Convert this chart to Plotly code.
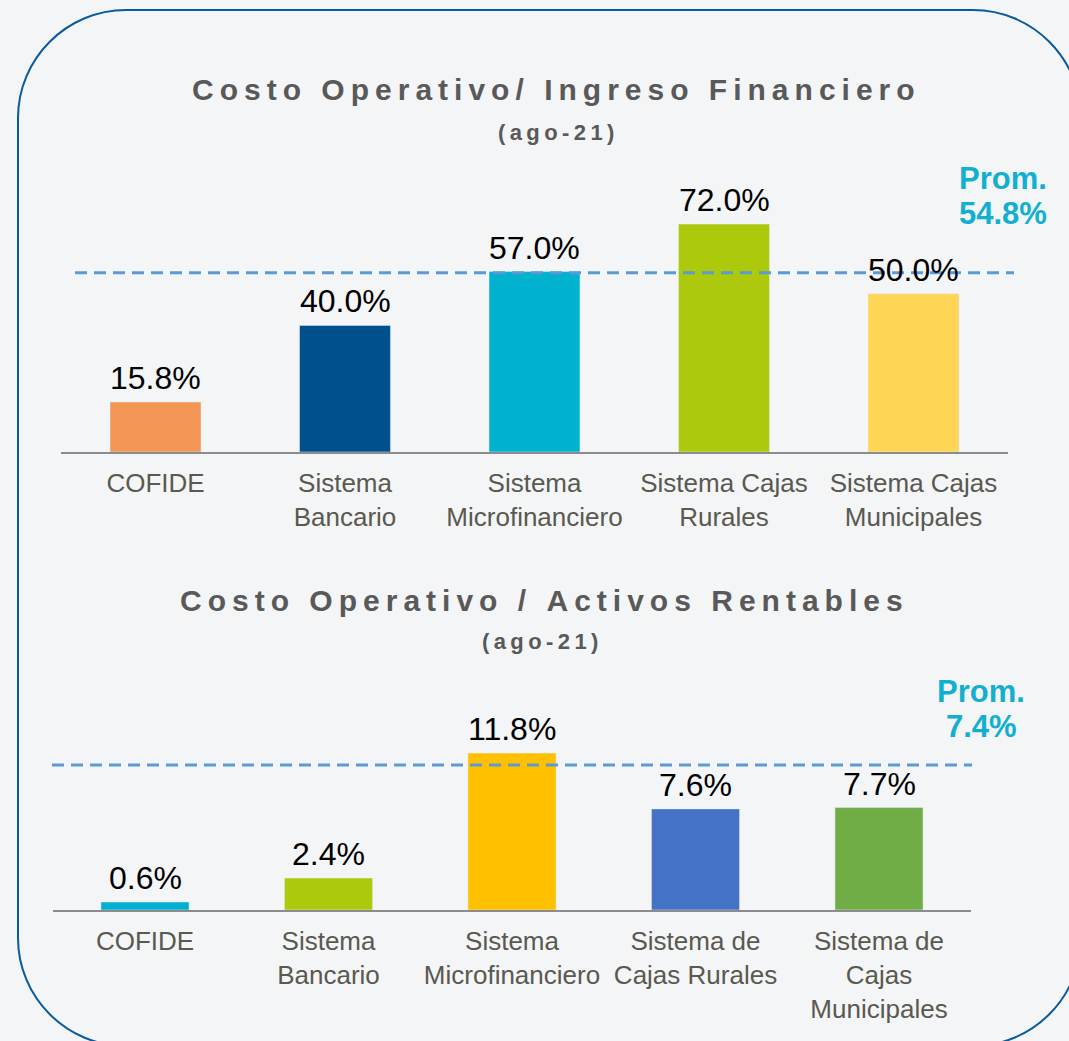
import plotly.graph_objects as go

W, H = 1069, 1041

# ---- data ----
cats_top = ["COFIDE", "Sistema<br>Bancario", "Sistema<br>Microfinanciero",
            "Sistema Cajas<br>Rurales", "Sistema Cajas<br>Municipales"]
vals_top = [15.8, 40.0, 57.0, 72.0, 50.0]
colors_top = ["#F39655", "#00508E", "#00B2CF", "#ADC90B", "#FFD556"]

cats_bot = ["COFIDE", "Sistema<br>Bancario", "Sistema<br>Microfinanciero",
            "Sistema de<br>Cajas Rurales", "Sistema de<br>Cajas<br>Municipales"]
vals_bot = [0.6, 2.4, 11.8, 7.6, 7.7]
colors_bot = ["#00B0CF", "#ADC90B", "#FFC000", "#4472C4", "#70AD47"]

prom_values = [54.8, 7.4]
# level at which the dashed "Prom." line is drawn in the source picture
prom_line_level = [56.6, 10.9]

titles = ["Costo Operativo/ Ingreso Financiero", "Costo Operativo / Activos Rentables"]
subtitle = "(ago-21)"


def px(x):
    return x / W


def py(y):
    return 1 - y / H


def spaced(s):
    # poor man's letter-spacing
    return "\u2009".join(s)


FONT = "Liberation Sans, Arial, sans-serif"
LABEL_GRAY = "#595950"
TITLE_GRAY = "#595959"
PROM_CYAN = "#12AFD0"

fig = go.Figure()

fig.add_trace(go.Bar(x=cats_top, y=vals_top, marker_color=colors_top, width=0.48,
                     xaxis="x", yaxis="y", showlegend=False, hoverinfo="x+y"))
fig.add_trace(go.Bar(x=cats_bot, y=vals_bot, marker_color=colors_bot, width=0.48,
                     xaxis="x2", yaxis="y2", showlegend=False, hoverinfo="x+y"))

annotations = []
# value labels above bars
for c, v in zip(cats_top, vals_top):
    annotations.append(dict(x=c, y=v, xref="x", yref="y", text=f"{v:.1f}%",
                            showarrow=False, yanchor="bottom", yshift=4,
                            font=dict(family=FONT, size=32, color="#000000")))
for c, v in zip(cats_bot, vals_bot):
    annotations.append(dict(x=c, y=v, xref="x2", yref="y2", text=f"{v:.1f}%",
                            showarrow=False, yanchor="bottom", yshift=4,
                            font=dict(family=FONT, size=32, color="#000000")))

# titles
for t, (tx, ty), (sx, sy) in zip(titles, [(553, 90), (541, 600)], [(556, 132), (540, 641)]):
    annotations.append(dict(x=px(tx), y=py(ty), xref="paper", yref="paper",
                            text=f"<b>{spaced(t)}</b>", showarrow=False,
                            xanchor="center", yanchor="middle",
                            font=dict(family=FONT, size=30, color=TITLE_GRAY)))
    annotations.append(dict(x=px(sx), y=py(sy), xref="paper", yref="paper",
                            text=f"<b>{spaced(subtitle)}</b>", showarrow=False,
                            xanchor="center", yanchor="middle",
                            font=dict(family=FONT, size=22, color=TITLE_GRAY)))

# Prom. labels
for p, (ax_, ay_) in zip(prom_values, [(1003, 179), (981, 691)]):
    for txt, dy in [("Prom.", 0), (f"{p:.1f}%", 35)]:
        annotations.append(dict(x=px(ax_), y=py(ay_ + dy), xref="paper", yref="paper",
                                text=f"<b>{txt}</b>", showarrow=False,
                                xanchor="center", yanchor="middle",
                                font=dict(family=FONT, size=31, color=PROM_CYAN)))

shapes = []
# dashed average lines
for lvl, yref, (x0, x1) in zip(prom_line_level, ["y", "y2"], [(75, 1014), (52, 972)]):
    shapes.append(dict(type="line", xref="paper", yref=yref, x0=px(x0), x1=px(x1),
                       y0=lvl, y1=lvl, layer="above",
                       line=dict(color="#5B9BD5", width=3, dash="12px,7px")))

# rounded frame
L, R, T, B, r = 18, 1081, 10, 1046, 108
k = 0.55 * r


def P(x, y):
    return f"{px(x):.5f},{py(y):.5f}"


frame = (f"M {P(L + r, T)} L {P(R - r, T)} "
         f"C {P(R - r + k, T)} {P(R, T + r - k)} {P(R, T + r)} "
         f"L {P(R, B - r)} "
         f"C {P(R, B - r + k)} {P(R - r + k, B)} {P(R - r, B)} "
         f"L {P(L + r, B)} "
         f"C {P(L + r - k, B)} {P(L, B - r + k)} {P(L, B - r)} "
         f"L {P(L, T + r)} "
         f"C {P(L, T + r - k)} {P(L + r - k, T)} {P(L + r, T)} Z")
shapes.append(dict(type="path", xref="paper", yref="paper", path=frame,
                   line=dict(color="#0B5A9C", width=2), layer="below"))

xaxis_style = dict(showline=True, linecolor="#8C8C8C", linewidth=2, ticks="",
                   showgrid=False, zeroline=False, fixedrange=True,
                   ticklabelstandoff=7,
                   tickfont=dict(family=FONT, size=26, color=LABEL_GRAY))
yaxis_style = dict(visible=False, showgrid=False, zeroline=False, fixedrange=True)

fig.update_layout(
    width=W, height=H,
    margin=dict(l=0, r=0, t=0, b=0),
    paper_bgcolor="#F4F5F7",
    plot_bgcolor="rgba(0,0,0,0)",
    bargap=0.52,
    xaxis=dict(domain=[px(60.75), px(1008.25)], anchor="y", **xaxis_style),
    yaxis=dict(domain=[py(452), py(150)], range=[0, (452 - 150) / 3.165], anchor="x", **yaxis_style),
    xaxis2=dict(domain=[px(53.25), px(970.75)], anchor="y2", **xaxis_style),
    yaxis2=dict(domain=[py(910), py(700)], range=[0, (910 - 700) / 13.3], anchor="x2", **yaxis_style),
    annotations=annotations,
    shapes=shapes,
)

fig.write_html("out.html", config={"displayModeBar": False},
               post_script="document.body.style.margin='0px';"
                           "document.body.style.background='#F4F5F7';")
